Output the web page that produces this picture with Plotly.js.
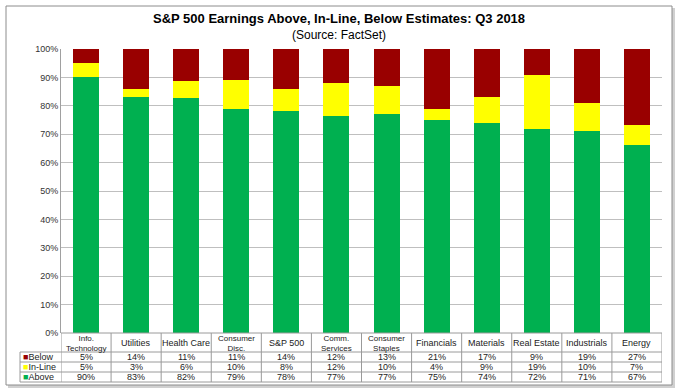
<!DOCTYPE html>
<html><head><meta charset="utf-8">
<script src="https://cdn.plot.ly/plotly-3.0.1.min.js"></script>
<style>html,body{margin:0;padding:0;background:#fff;}#chart{width:678px;height:391px;}</style>
</head><body><div id="chart"></div>
<script>
const categories = ["Info.<br>Technology","Utilities","Health Care","Consumer<br>Disc.","S&P 500","Comm.<br>Services","Consumer<br>Staples","Financials","Materials","Real Estate","Industrials","Energy"];
const below  = [5,14,11,11,14,12,13,21,17,9,19,27];
const inLine = [5,3,6,10,8,12,10,4,9,19,10,7];
const above  = [90,83,82,79,78,77,77,75,74,72,71,67];
const seriesNames = ["Below","In-Line","Above"];
const colors = {Below:"#990000","In-Line":"#FFFF00",Above:"#00B050"};

const W=678,H=391, L=61, R=662, T=49, B=333;
const px2x = p => (p-L)/(R-L);
const px2y = p => (B-p)/(B-T);
const idx = categories.map((_,i)=>i);
const FONT = "Liberation Sans, Arial, sans-serif";

const traces = [
  {name:"Above", x:idx, y:above, type:"bar", marker:{color:colors.Above}},
  {name:"In-Line", x:idx, y:inLine, type:"bar", marker:{color:colors["In-Line"]}},
  {name:"Below", x:idx, y:below, type:"bar", marker:{color:colors.Below}}
];

const shapes = [];
const annotations = [];
const lineC = "#9a9a9a";
shapes.push({type:"rect", xref:"paper", yref:"paper", x0:px2x(8), x1:px2x(675), y0:px2y(8), y1:px2y(388), line:{width:0}, fillcolor:"#d0d0d0", layer:"below"});
shapes.push({type:"rect", xref:"paper", yref:"paper", x0:px2x(6), x1:px2x(672), y0:px2y(6), y1:px2y(385), line:{color:"#8c8c8c", width:1}, fillcolor:"#ffffff", layer:"below"});

const rowY = [333,352,362,372,382];
shapes.push({type:"line", xref:"paper", yref:"paper", x0:0, x1:1, y0:px2y(333), y1:px2y(333), line:{color:lineC,width:1}});
for (let r=1;r<rowY.length;r++){
  shapes.push({type:"line", xref:"paper", yref:"paper", x0:px2x(20), x1:1, y0:px2y(rowY[r]), y1:px2y(rowY[r]), line:{color:lineC,width:1}});
}
for (let i=0;i<=categories.length;i++){
  shapes.push({type:"line", xref:"x", yref:"paper", x0:i-0.5, x1:i-0.5, y0:px2y(333), y1:px2y(382), line:{color:lineC,width:1}});
}
shapes.push({type:"line", xref:"paper", yref:"paper", x0:px2x(20), x1:px2x(20), y0:px2y(352), y1:px2y(382), line:{color:lineC,width:1}});

categories.forEach((c,i)=>{
  const two = c.indexOf("<br>")>=0;
  annotations.push({xref:"x", yref:"paper", x:i, y:px2y(343), text:c, showarrow:false, borderpad:0,
    font:{family:FONT,size:two?8:9,color:"#222"}, yanchor:"middle", xanchor:"center"});
});
const rows = [below,inLine,above];
rows.forEach((arr,r)=>{
  const yc = px2y((rowY[r+1]+rowY[r+2])/2);
  annotations.push({xref:"paper", yref:"paper", x:px2x(22), y:yc, xanchor:"left", yanchor:"middle", showarrow:false, borderpad:0,
    text:'<span style="color:'+colors[seriesNames[r]]+'">■</span>'+seriesNames[r], font:{family:FONT,size:9,color:"#222"}});
  arr.forEach((v,i)=>{
    annotations.push({xref:"x", yref:"paper", x:i, y:yc, text:v+"%", showarrow:false, borderpad:0, xanchor:"center", yanchor:"middle", font:{family:FONT,size:9,color:"#222"}});
  });
});
annotations.push({xref:"paper", yref:"paper", x:px2x(339), y:px2y(18), text:"<b>S&P 500 Earnings Above, In-Line, Below Estimates: Q3 2018</b>", showarrow:false, xanchor:"center", yanchor:"middle", font:{family:FONT,size:13,color:"#000"}});
annotations.push({xref:"paper", yref:"paper", x:px2x(339), y:px2y(35), text:"(Source: FactSet)", showarrow:false, xanchor:"center", yanchor:"middle", font:{family:FONT,size:12,color:"#000"}});

const layout = {
  width:W, height:H, barmode:"stack", barnorm:"percent", bargap:0.48,
  margin:{l:L, r:W-R, t:T, b:H-B, pad:0},
  paper_bgcolor:"#ffffff", plot_bgcolor:"rgba(0,0,0,0)",
  showlegend:false,
  font:{family:FONT,size:9,color:"#333"},
  xaxis:{range:[-0.5,categories.length-0.5], showticklabels:false, showgrid:false, zeroline:false, showline:false, ticks:""},
  yaxis:{range:[0,100], dtick:10, ticksuffix:"%", showgrid:true, gridcolor:"#bfbfbf", gridwidth:1, zeroline:false,
         showline:true, linecolor:"#a0a0a0", linewidth:1, ticks:"", tickfont:{family:FONT,size:9,color:"#333"}, fixedrange:true},
  shapes:shapes, annotations:annotations
};
Plotly.newPlot("chart", traces, layout, {displayModeBar:false, staticPlot:true});
</script></body></html>
